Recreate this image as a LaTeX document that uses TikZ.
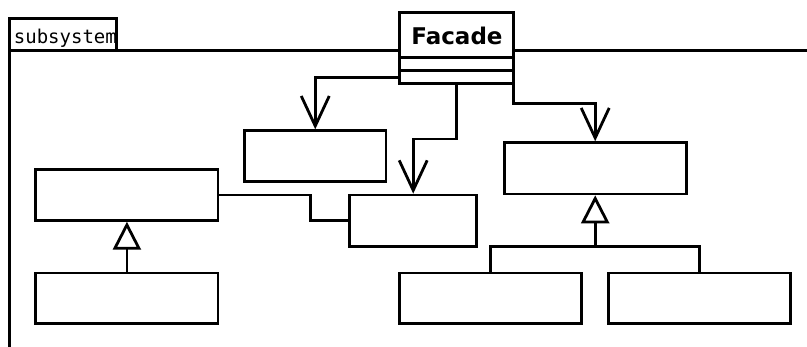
\documentclass[tikz,border=0pt]{standalone}
\usepackage{fontspec}
\setmainfont{DejaVu Sans}
\newfontfamily\monofont{DejaVu Sans Mono}
\usetikzlibrary{arrows.meta}
\begin{document}
\begin{tikzpicture}[x=1pt,y=-1pt,line width=2.8pt,
  box/.style={draw,rectangle,inner sep=0pt,minimum width=182.2pt,minimum height=50.7pt},
  dep/.style={-{Straight Barb[length=30pt,width=28pt]}},
  gen/.style={-{Triangle[open,length=28pt,width=28pt,fill=white]}}]
\useasboundingbox (0,0) rectangle (807,347);
% package frame
\node[anchor=base west,inner sep=0pt,font=\monofont\fontsize{19}{19}\selectfont] (pkg) at (12.5,44) {subsystem};
\draw (9.7,347) -- (9.7,50.8) -- (807,50.8);
\draw (9.7,50.8) -- (9.7,18.7) -- (116.3,18.7) -- (116.3,50.8);
% facade
\node[draw,fill=white,inner sep=0pt,outer sep=0pt,minimum width=114pt,minimum height=71pt] (facade) at (456.7,47.8) {};
\node[anchor=base,inner sep=0pt,font=\bfseries\fontsize{23}{23}\selectfont] (fname) at (457,44.3) {Facade};
\coordinate (c1) at (0,57.3);
\coordinate (c2) at (0,70.7);
\coordinate (c3) at (0,77.3);
\draw (facade.west |- c1) -- (facade.east |- c1);
\draw (facade.west |- c2) -- (facade.east |- c2);
% classes
\node[box,minimum width=141.5pt,minimum height=50.6pt] (b1) at (315.25,156) {};
\node[box,minimum width=127.2pt,minimum height=51.3pt] (b2) at (413.2,220.7) {};
\node[box] (b3) at (126.9,195) {};
\node[box] (b4) at (126.9,298.3) {};
\node[box,minimum height=51.3pt] (b5) at (595.2,168.3) {};
\node[box] (b6) at (490.2,298.3) {};
\node[box] (b7) at (699.3,298.3) {};
% connectors
\draw[dep] (facade.west |- c3) -| (b1.north);
\draw[dep] (facade.south) -- ++(0,55.7) -| (b2.north);
\draw[dep] ([yshift=1.4pt]facade.south east) -- ++(0,21.4) -| (b5.north);
\draw (b3.east) -- ++(90.7,0) |- (b2.west);
\draw[gen] (b4.north) -- (b3.south);
\coordinate (bar) at (0,246.3);
\draw[gen] (b5.south |- bar) -- (b5.south);
\draw (b6.north) |- (b7.north |- bar) -- (b7.north);
\end{tikzpicture}
\end{document}
